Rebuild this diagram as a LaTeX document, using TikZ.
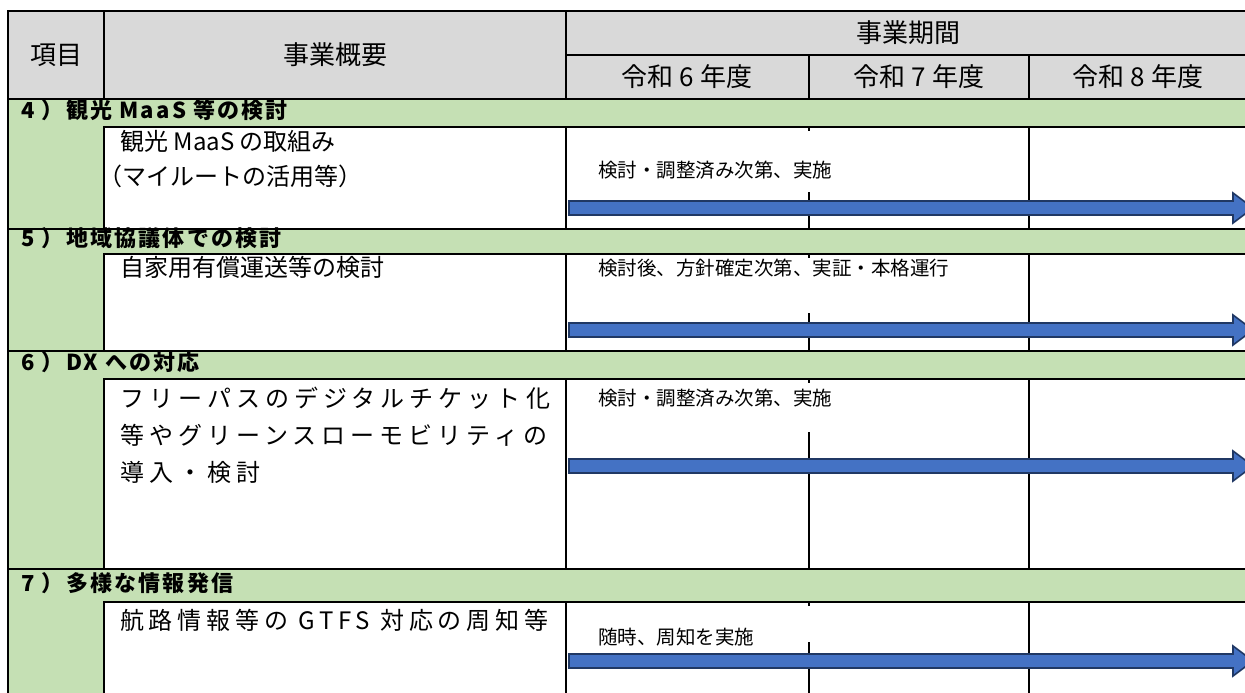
\documentclass[tikz,border=0pt]{standalone}
\usepackage{fontspec}
\setmainfont{Noto Sans CJK JP}
\usetikzlibrary{positioning}
\definecolor{hdgray}{HTML}{D9D9D9}
\definecolor{secgreen}{HTML}{C5E0B4}
\definecolor{barblue}{HTML}{4472C4}
\definecolor{barline}{HTML}{203864}
\begin{document}
\begin{tikzpicture}[x=1pt,y=-1pt,
  grid/.style={draw=black,line width=1.8pt},
  hd/.style={font=\fontsize{26}{30}\selectfont,inner sep=0pt},
  sec/.style={font=\fontsize{22}{26}\selectfont\bfseries\addfontfeatures{LetterSpace=10},anchor=west,inner sep=0pt},
  item/.style={font=\fontsize{24}{35}\selectfont,anchor=north west,inner sep=0pt,align=left},
  note/.style={font=\fontsize{19.5}{22}\selectfont,anchor=west,inner sep=0pt},
  bar/.style={fill=barblue,draw=barline,line width=1.6pt,line join=miter}]
\useasboundingbox (0,0) rectangle (1245,693);
\clip (0,0) rectangle (1245,693);
% header
\fill[hdgray] (8,11) rectangle (1250,99);
\draw[grid] (8,99) -- (8,11) -- (1250,11);
\draw[grid] (104,11) -- (104,99);
\draw[grid] (566,11) -- (566,99);
\draw[grid] (566,55) -- (1250,55);
\draw[grid] (809,55) -- (809,99);
\draw[grid] (1029,55) -- (1029,99);
\node[hd] (koumoku) at (56,55) {項目};
\node[hd] (gaiyou) at (335,55) {事業概要};
\node[hd] (kikan) at (908,33) {事業期間};
\node[hd] (r6) at (687,77) {令和 6 年度};
\node[hd] (r7) at (919,77) {令和 7 年度};
\node[hd] (r8) at (1138,77) {令和 8 年度};
% sections: top / green bottom / row bottom / bar / tick start
\foreach \t/\g/\b/\a/\k in {99/127/229/208/192, 229/254/351/330/313,
    351/379/569/466/432, 569/602/705/661/642} {
  \fill[secgreen] (8,\t) rectangle (1250,\b);
  \fill[white] (104,\g) rectangle (1250,\b);
  \draw[grid] (8,\t) -- (8,\b);
  \draw[grid] (8,\t) -- (1250,\t);
  \draw[grid] (104,\g) rectangle (1250,\b);
  \draw[grid] (566,\g) -- (566,\b);
  \draw[grid] (809,\g) -- (809,\g+4);
  \draw[grid] (809,\k) -- (809,\b);
  \draw[grid] (1029,\g) -- (1029,\b);
  \draw[bar] (569,\a-7) -- (1233,\a-7) -- (1233,\a-15) -- (1253,\a)
    -- (1233,\a+15) -- (1233,\a+7) -- (569,\a+7) -- cycle;
}
\node[sec] (s4) at (21,110) {4 ）観光 MaaS 等の検討};
\node[sec] (s5) at (21,238) {5 ）地域協議体での検討};
\node[sec] (s6) at (21,362) {6 ）DX への対応};
\node[sec] (s7) at (21,583) {7 ）多様な情報発信};
\node[item] (i4) at (110,130) {\hspace*{10pt}観光 MaaS の取組み\\
  {\addfontfeatures{RawFeature=+halt}（}マイルートの活用等）};
\node[item] (i5) at (120,256) {自家用有償運送等の検討};
\node[item,font=\fontsize{24}{37}\selectfont\addfontfeatures{LetterSpace=21}]
  (i6) at (120,387) {フリーパスのデジタルチケット化\\等やグリーンスローモビリティの\\導入・検討};
\node[item,font=\fontsize{24}{35}\selectfont\addfontfeatures{LetterSpace=20}]
  (i7) at (120,609) {航路情報等の GTFS 対応の周知等};
\node[note] (n4) at (598,170) {検討・調整済み次第、実施};
\node[note] (n5) at (598,268) {検討後、方針確定次第、実証・本格運行};
\node[note] (n6) at (598,398) {検討・調整済み次第、実施};
\node[note] (n7) at (598,637) {随時、周知を実施};
\end{tikzpicture}
\end{document}
